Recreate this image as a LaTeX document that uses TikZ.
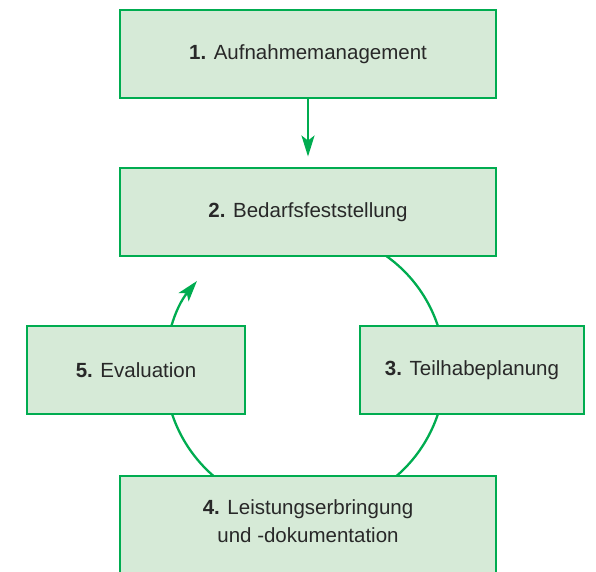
\documentclass[tikz,border=0pt]{standalone}
\usepackage{fontspec}
\setmainfont{Liberation Sans}
\usetikzlibrary{arrows.meta,calc}
\definecolor{gborder}{RGB}{0,172,80}
\definecolor{gfill}{RGB}{214,234,215}
\definecolor{txt}{RGB}{40,40,40}
\begin{document}
\begin{tikzpicture}[x=1pt,y=-1pt,
  stepfont/.style={font=\fontsize{20.5}{25}\selectfont, text=txt, align=center},
  stepbox/.style={draw=gborder, fill=gfill, line width=2.9pt, minimum height=88pt,
    inner sep=0pt, stepfont},
  conn/.style={draw=gborder, line width=2.3pt},
  tip/.style={-{Stealth[length=21pt,width=13pt,inset=5pt]}}]
\useasboundingbox (0,0) rectangle (596,571);
\coordinate (c) at (305,370);
% cycle arc (drawn first, boxes cover it)
\draw[conn,tip] (c) ++(-62:140) arc[start angle=-62, end angle=219.5, radius=140];
\node[stepbox, minimum width=376pt] (b1) at (308,54) {\textbf{1.} Aufnahmemanagement};
\node[stepbox, minimum width=376pt] (b2) at (308,212) {\textbf{2.} Bedarfsfeststellung};
\node[stepbox, minimum width=224pt] (b3) at (472,370) {\textbf{3.} Teilhabeplanung};
\node[stepbox, minimum width=218pt] (b5) at (136,370) {\textbf{5.} Evaluation};
\node[stepbox, minimum width=376pt, minimum height=104pt] (b4) at (308,528) {};
\node[stepfont, inner sep=0pt] (b4t) at (308,521)
  {\textbf{4.} Leistungserbringung\\[3pt]und -dokumentation};
\draw[conn,tip] (b1.south) -- ([yshift=10pt]b2.north);
\end{tikzpicture}
\end{document}
